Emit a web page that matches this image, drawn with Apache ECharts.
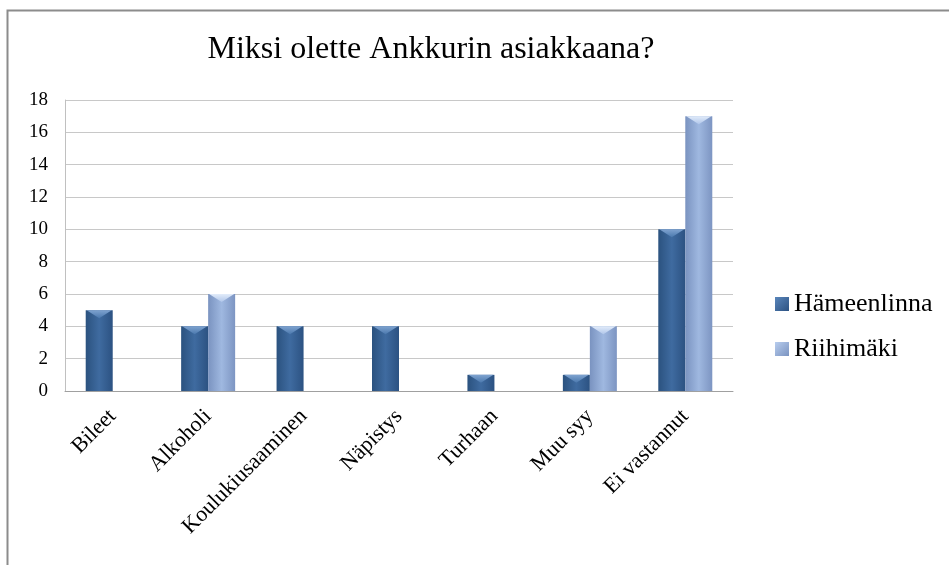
<!DOCTYPE html>
<html>
<head>
<meta charset="utf-8">
<script src="https://cdn.jsdelivr.net/npm/echarts@6/dist/echarts.min.js"></script>
<style>
html,body{margin:0;padding:0;background:#fff;}
#chart{width:949px;height:565px;}
</style>
</head>
<body>
<div id="chart"></div>
<script>
const titleText = 'Miksi olette Ankkurin asiakkaana?';
const categories = ['Bileet', 'Alkoholi', 'Koulukiusaaminen', 'Näpistys', 'Turhaan', 'Muu syy', 'Ei vastannut'];
const seriesNames = ['Hämeenlinna', 'Riihimäki'];
const hameenlinna = [5, 4, 4, 4, 1, 1, 10];
const riihimaki = [0, 6, 0, 0, 0, 4, 17];
const yTicks = [0, 2, 4, 6, 8, 10, 12, 14, 16, 18];

const font = '"Liberation Serif", "DejaVu Serif", serif';
const darkGrad = new echarts.graphic.LinearGradient(0, 0, 1, 0, [
  {offset: 0, color: '#2b527f'},
  {offset: 0.5, color: '#3f6ba0'},
  {offset: 1, color: '#2c5282'}
]);
const lightGrad = new echarts.graphic.LinearGradient(0, 0, 1, 0, [
  {offset: 0, color: '#7a93c0'},
  {offset: 0.5, color: '#9fb8e0'},
  {offset: 1, color: '#7d95c2'}
]);
const darkBevel = new echarts.graphic.LinearGradient(0, 0, 0, 1, [
  {offset: 0, color: '#7fa3d0'},
  {offset: 1, color: '#4a78ad'}
]);
const lightBevel = new echarts.graphic.LinearGradient(0, 0, 0, 1, [
  {offset: 0, color: '#e2ecfa'},
  {offset: 1, color: '#b0c6ea'}
]);
const legendDark = new echarts.graphic.LinearGradient(0, 0, 1, 1, [
  {offset: 0, color: '#5a86bb'},
  {offset: 1, color: '#2c5282'}
]);
const legendLight = new echarts.graphic.LinearGradient(0, 0, 1, 1, [
  {offset: 0, color: '#b8cdee'},
  {offset: 1, color: '#7a93c0'}
]);
const BW = 27;
const tri = 'path://M0,0 L20,0 L10,7 Z';
const bevelOf = arr => arr.map(v => v > 0 ? v : '-');

const chart = echarts.init(document.getElementById('chart'), null, {renderer: 'canvas'});
chart.setOption({
  animation: false,
  backgroundColor: '#fff',
  graphic: [{
    type: 'rect',
    shape: {x: 7.5, y: 10.5, width: 1200, height: 1000},
    style: {fill: 'none', stroke: '#8c8c8c', lineWidth: 2},
    silent: true, z: -1
  }],
  title: {
    text: titleText,
    left: 426, top: 29, textAlign: 'center',
    textStyle: {fontFamily: font, fontSize: 32, fontWeight: 'normal', color: '#000'}
  },
  legend: {
    orient: 'vertical',
    left: 770, top: 286,
    itemWidth: 14, itemHeight: 14, itemGap: 19,
    icon: 'rect',
    textStyle: {fontFamily: font, fontSize: 26, color: '#000'},
    data: [
      {name: seriesNames[0], itemStyle: {color: legendDark}},
      {name: seriesNames[1], itemStyle: {color: legendLight}}
    ]
  },
  grid: {left: 65, right: 216, top: 100, bottom: 174, containLabel: false},
  xAxis: {
    type: 'category',
    data: categories,
    axisLine: {lineStyle: {color: '#a0a0a0', width: 1}},
    axisTick: {show: false},
    axisLabel: {rotate: 45, interval: 0, margin: 22, fontFamily: font, fontSize: 22, color: '#000'}
  },
  yAxis: {
    type: 'value',
    min: 0, max: 18, interval: 2,
    axisLine: {show: true, lineStyle: {color: '#c0c0c0'}},
    axisTick: {show: false},
    splitLine: {lineStyle: {color: '#c8c8c8'}},
    axisLabel: {
      margin: 17, fontFamily: font, fontSize: 19, color: '#000',
      formatter: v => yTicks.includes(v) ? String(v) : ''
    }
  },
  series: [
    {
      name: seriesNames[0], type: 'bar', data: hameenlinna,
      barGap: '0%', barWidth: BW,
      itemStyle: {color: darkGrad, borderWidth: 0}
    },
    {
      name: seriesNames[1], type: 'bar', data: riihimaki,
      barWidth: BW,
      itemStyle: {color: lightGrad, borderWidth: 0}
    },
    {
      name: 'bevel0', type: 'pictorialBar', data: bevelOf(hameenlinna),
      symbol: tri, symbolSize: [BW - 2, 8], symbolPosition: 'end',
      symbolOffset: [-BW / 2, 0], symbolRepeat: false, z: 5,
      itemStyle: {color: darkBevel}, silent: true
    },
    {
      name: 'bevel1', type: 'pictorialBar', data: bevelOf(riihimaki),
      symbol: tri, symbolSize: [BW - 2, 8], symbolPosition: 'end',
      symbolOffset: [BW / 2, 0], symbolRepeat: false, z: 5,
      itemStyle: {color: lightBevel}, silent: true
    }
  ]
});
</script>
</body>
</html>
